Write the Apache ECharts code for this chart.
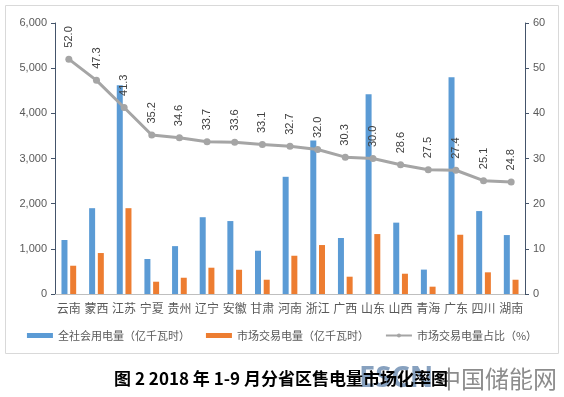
<!DOCTYPE html>
<html>
<head>
<meta charset="UTF-8">
<title></title>
<script src="https://cdn.jsdelivr.net/npm/echarts@6/dist/echarts.min.js"></script>
<style>
	body{margin:0;background:#fff;}
	#chart{width:564px;height:397px;}
</style>
</head>
<body>
<div id="chart"></div>
<script type="text/javascript">
// 省区
var provinces = ['云南','蒙西','江苏','宁夏','贵州','辽宁','安徽','甘肃','河南','浙江','广西','山东','山西','青海','广东','四川','湖南'];
// 全社会用电量（亿千瓦时）
var totalPower = [1195,1900,4620,775,1060,1700,1615,958,2595,3400,1240,4425,1580,540,4800,1836,1305];
// 市场交易电量（亿千瓦时）
var marketPower = [626,907,1900,272,360,582,537,316,847,1084,383,1327,449,162,1312,480,316];
// 市场交易电量占比（%）
var marketRatio = [52.0,47.3,41.3,35.2,34.6,33.7,33.6,33.1,32.7,32.0,30.3,30.0,28.6,27.5,27.4,25.1,24.8];

var myChart = echarts.init(document.getElementById('chart'));
var textColor = '#595959';
myChart.setOption({
	animation: false,
	graphic: [
		{type:'rect', shape:{x:5.5,y:5.5,width:553,height:348}, style:{fill:'none',stroke:'#d9d9d9',lineWidth:1}, silent:true},
		// 水印
		{type:'text', x:359, y:379, style:{text:'ESCN', font:'bold 29px "Noto Sans"', fill:'rgba(95,130,170,0.75)', textVerticalAlign:'middle'}},
		{type:'text', x:437, y:379, style:{text:'中国储能网', font:'24px "Noto Sans CJK SC"', fill:'rgba(120,120,120,0.85)', textVerticalAlign:'middle'}},
		{type:'text', x:281, y:379, style:{text:'图 2 2018 年 1-9 月分省区售电量市场化率图', font:'bold 17px "Noto Sans CJK SC"', fill:'#000', textAlign:'center', textVerticalAlign:'middle'}}
	],
	legend: {
		bottom: 51,
		left: 'center',
		itemGap: 16,
		itemWidth: 26,
		itemHeight: 5,
		textStyle: {color: textColor, fontSize: 11, fontFamily: 'Noto Sans CJK SC'},
		data: [
			{name:'全社会用电量（亿千瓦时）', icon:'rect'},
			{name:'市场交易电量（亿千瓦时）', icon:'rect'},
			{name:'市场交易电量占比（%）'}
		]
	},
	grid: {left: 55, right: 39, top: 23, bottom: 103},
	xAxis: {
		type: 'category',
		data: provinces,
		axisLine: {lineStyle: {color: '#bfbfbf'}},
		axisTick: {show: false},
		axisLabel: {color: textColor, fontSize: 12, interval: 0, margin: 8, fontFamily: 'Noto Sans CJK SC'}
	},
	yAxis: [
		{
			type: 'value', min: 0, max: 6000, interval: 1000,
			axisLine: {show: true, lineStyle: {color: '#44546a'}},
			axisTick: {show: true, inside: false, length: 4, lineStyle: {color: '#44546a'}},
			splitLine: {show: false},
			axisLabel: {color: textColor, fontSize: 11, margin: 8,
				formatter: function(v){ return v.toLocaleString('en-US'); }}
		},
		{
			type: 'value', min: 0, max: 60, interval: 10,
			axisLine: {show: true, lineStyle: {color: '#44546a'}},
			axisTick: {show: true, length: 4, lineStyle: {color: '#44546a'}},
			splitLine: {show: false},
			axisLabel: {color: textColor, fontSize: 11, margin: 8}
		}
	],
	series: [
		{
			name: '全社会用电量（亿千瓦时）', type: 'bar', data: totalPower,
			barWidth: 6, barGap: '45%',
			itemStyle: {color: '#5b9bd5'}
		},
		{
			name: '市场交易电量（亿千瓦时）', type: 'bar', data: marketPower,
			barWidth: 6,
			itemStyle: {color: '#ed7d31'}
		},
		{
			name: '市场交易电量占比（%）', type: 'line', yAxisIndex: 1, data: marketRatio,
			symbol: 'circle', symbolSize: 7,
			lineStyle: {color: '#a5a5a5', width: 3},
			itemStyle: {color: '#a5a5a5'},
			z: 5,
			label: {
				show: true, position: 'top', rotate: 90, distance: 8,
				align: 'left', verticalAlign: 'middle',
				color: '#404040', fontSize: 11,
				formatter: function(p){ return p.value.toFixed(1); }
			}
		}
	]
});
</script>
</body>
</html>
